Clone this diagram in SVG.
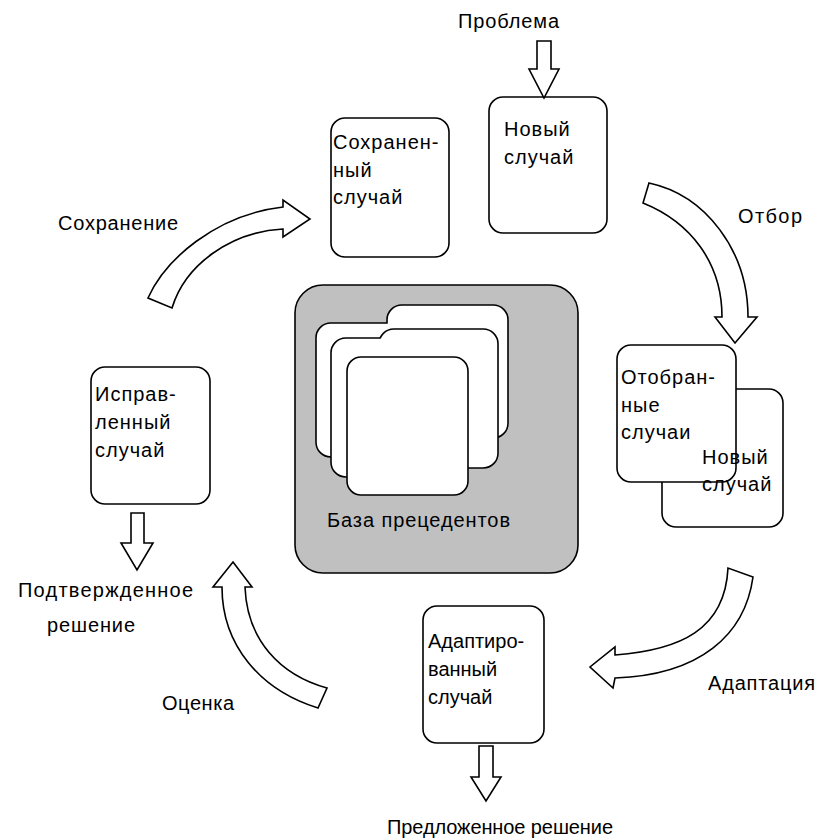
<svg xmlns="http://www.w3.org/2000/svg" width="821" height="839" viewBox="0 0 821 839">
<style>
  text { font-family: "Liberation Sans", Arial, sans-serif; font-size: 20px; fill: #000; }
  .bt { letter-spacing: 1px; }
  .box { fill: #fff; stroke: #000; stroke-width: 1.6; }
  .arr { fill: #fff; stroke: #000; stroke-width: 1.6; stroke-linejoin: miter; }
  .ustroke { fill: none; stroke: #000; stroke-width: 3.2; }
  .ufill { fill: #fff; stroke: none; }
</style>
<rect x="0" y="0" width="821" height="839" fill="#fff"/>

<g id="base">
  <rect x="295" y="285" width="283" height="288" rx="28" fill="#c0c0c0" stroke="#000" stroke-width="1.6"/>
  <g id="cards-back">
    <rect class="ustroke" x="387.8" y="305.8" width="119.4" height="131.4" rx="14"/>
    <rect class="ustroke" x="316.8" y="323.8" width="119.4" height="132.4" rx="14"/>
    <rect class="ufill" x="387.8" y="305.8" width="119.4" height="131.4" rx="14"/>
    <rect class="ufill" x="316.8" y="323.8" width="119.4" height="132.4" rx="14"/>
  </g>
  <g id="cards-mid">
    <rect class="ustroke" x="379.8" y="329.8" width="117.4" height="137.4" rx="14"/>
    <rect class="ustroke" x="331.8" y="338.8" width="118.4" height="137.4" rx="14"/>
    <rect class="ufill" x="379.8" y="329.8" width="117.4" height="137.4" rx="14"/>
    <rect class="ufill" x="331.8" y="338.8" width="118.4" height="137.4" rx="14"/>
  </g>
  <rect class="box" x="347" y="357" width="121" height="138" rx="14"/>
  <text x="327" y="527" textLength="183" lengthAdjust="spacing">База прецедентов</text>
</g>

<g id="saved">
  <rect class="box" x="331" y="118" width="118" height="139" rx="14"/>
  <text class="bt" x="333" y="149">Сохранен-</text>
  <text class="bt" x="333" y="177">ный</text>
  <text class="bt" x="333" y="204">случай</text>
</g>

<g id="new">
  <rect class="box" x="489" y="97" width="118" height="136" rx="14"/>
  <text class="bt" x="504" y="136">Новый</text>
  <text class="bt" x="504" y="164">случай</text>
</g>

<g id="selected">
  <rect class="box" x="662" y="389" width="121" height="138" rx="14"/>
  <rect class="box" x="617" y="345" width="119" height="137" rx="14"/>
  <text class="bt" x="621" y="384">Отобран-</text>
  <text class="bt" x="621" y="412">ные</text>
  <text class="bt" x="621" y="439">случаи</text>
  <text class="bt" x="702" y="464">Новый</text>
  <text class="bt" x="702" y="491">случай</text>
</g>

<g id="revised">
  <rect class="box" x="91" y="367" width="119" height="137" rx="14"/>
  <text class="bt" x="95" y="401">Исправ-</text>
  <text class="bt" x="95" y="429">ленный</text>
  <text class="bt" x="95" y="457">случай</text>
</g>

<g id="adapted">
  <rect class="box" x="423" y="606" width="121" height="137" rx="14"/>
  <text x="428" y="648">Адаптиро-</text>
  <text x="428" y="676">ванный</text>
  <text x="428" y="704">случай</text>
</g>

<g id="labels">
  <text x="458" y="28" textLength="101" lengthAdjust="spacing">Проблема</text>
  <text x="738" y="223" textLength="64" lengthAdjust="spacing">Отбор</text>
  <text x="58" y="230" textLength="120" lengthAdjust="spacing">Сохранение</text>
  <text x="18" y="597" textLength="175" lengthAdjust="spacing">Подтвержденное</text>
  <text x="47" y="632" textLength="88" lengthAdjust="spacing">решение</text>
  <text x="162" y="710" textLength="72" lengthAdjust="spacing">Оценка</text>
  <text x="708" y="690" textLength="107" lengthAdjust="spacing">Адаптация</text>
  <text x="387" y="834" textLength="226" lengthAdjust="spacing">Предложенное решение</text>
</g>

<g id="connectors">
  <path class="arr" d="M537,41 H551 V69 H559 L544,98 L529,69 H537 Z"/>
  <path class="arr" d="M131,513 H144 V543 H153 L137,570 L121,543 H131 Z"/>
  <path class="arr" d="M479,746 H493 V777 H501 L486,801 L471,777 H479 Z"/>
  <path class="arr" d="M649,183 C705,195 748,250 748,317 L757,317 L735,343 L715,317 L722,317 C722,262 690,222 643,203 Z"/>
  <path class="arr" d="M148,298 C165,260 215,215 283,207 L283,200 L310,219 L283,237 L283,229 C230,232 185,265 172,308 Z"/>
  <path class="arr" d="M753,577 C745,635 700,675 615,678 L613,688 L590,667 L615,647 L615,655 C680,650 725,630 728,568 Z"/>
  <path class="arr" d="M233,562 L252,587 L245,587 C247,640 280,675 327,688 L318,708 C260,690 222,645 222,587 L213,587 Z"/>
</g>
</svg>
